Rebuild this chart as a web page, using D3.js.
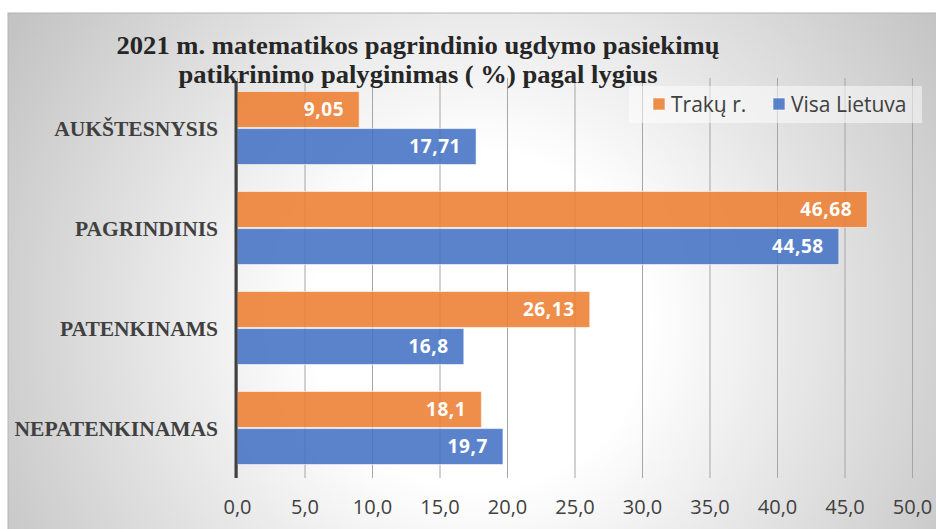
<!DOCTYPE html>
<html>
<head>
<meta charset="utf-8">
<script src="https://cdn.jsdelivr.net/npm/d3@7"></script>
<style>
  body { margin: 0; background: #fff; }
  svg { display: block; }
</style>
</head>
<body>
<svg width="936" height="529"></svg>
<script>
const categories = ["AUKŠTESNYSIS", "PAGRINDINIS", "PATENKINAMS", "NEPATENKINAMAS"];
const seriesNames = ["Trakų r.", "Visa Lietuva"];
const trakai = [9.05, 46.68, 26.13, 18.1];
const lietuva = [17.71, 44.58, 16.8, 19.7];
const tickValues = [0, 5, 10, 15, 20, 25, 30, 35, 40, 45, 50];
const titleLines = [
  "2021 m. matematikos pagrindinio ugdymo pasiekimų",
  "patikrinimo palyginimas ( %) pagal lygius"
];
const colors = ["#ED7D31", "#4472C4"];

const svg = d3.select("svg");
const defs = svg.append("defs");
const grad = defs.append("radialGradient")
  .attr("id", "bg")
  .attr("gradientUnits", "userSpaceOnUse")
  .attr("cx", 480).attr("cy", 320).attr("r", 560);
grad.append("stop").attr("offset", "0").attr("stop-color", "#ffffff");
grad.append("stop").attr("offset", "0.3").attr("stop-color", "#ffffff");
grad.append("stop").attr("offset", "1").attr("stop-color", "#c2c2c2");

svg.append("rect")
  .attr("x", 8).attr("y", 13).attr("width", 940).attr("height", 530)
  .attr("fill", "url(#bg)")
  .attr("stroke", "#b4b4b4").attr("stroke-width", 1);

const margin = { left: 237, right: 912, top: 78, bottom: 478 };
const x = d3.scaleLinear().domain([0, 50]).range([margin.left, margin.right]);
const y = d3.scaleBand().domain(categories).range([margin.top, margin.bottom])
  .paddingInner(0.27).paddingOuter(0.135);
const ys = d3.scaleBand().domain(seriesNames).range([0, y.bandwidth()]).paddingInner(0.03);

// gridlines + tick labels
const fmt = d => d3.format(".1f")(d).replace(".", ",");
const xAxis = svg.append("g")
  .attr("transform", `translate(0,${margin.bottom})`)
  .call(d3.axisBottom(x).tickValues(tickValues).tickFormat(fmt)
    .tickSize(-(margin.bottom - margin.top)).tickPadding(22));
xAxis.select(".domain").remove();
xAxis.selectAll(".tick line").attr("stroke", "#a6a6a6").attr("stroke-width", 1);
xAxis.selectAll(".tick text")
  .attr("fill", "#404040")
  .style("font-family", "'Open Sans', sans-serif")
  .style("font-size", "20px");

// bars
const rows = categories.map((c, i) => ({ cat: c, vals: [trakai[i], lietuva[i]] }));
const groups = svg.selectAll(".cat").data(rows).enter().append("g")
  .attr("class", "cat")
  .attr("transform", d => `translate(0,${y(d.cat)})`);

groups.selectAll("rect").data(d => d.vals.map((v, j) => ({ v, s: seriesNames[j], j })))
  .enter().append("rect")
  .attr("x", x(0))
  .attr("y", d => ys(d.s))
  .attr("width", d => x(d.v) - x(0))
  .attr("height", ys.bandwidth())
  .attr("fill", d => colors[d.j])
  .attr("fill-opacity", 0.88)
  .attr("stroke", "rgba(255,255,255,0.55)")
  .attr("stroke-width", 1);

groups.selectAll("text.val").data(d => d.vals.map((v, j) => ({ v, s: seriesNames[j] })))
  .enter().append("text")
  .attr("class", "val")
  .attr("x", d => x(d.v) - 15)
  .attr("y", d => ys(d.s) + ys.bandwidth() / 2)
  .attr("dy", "0.36em")
  .attr("text-anchor", "end")
  .attr("fill", "#fff")
  .style("font-family", "'Open Sans', sans-serif")
  .style("font-weight", "bold")
  .style("font-size", "19px")
  .style("letter-spacing", "0.6px")
  .text(d => String(d.v).replace(".", ","));

// vertical axis line
svg.append("line")
  .attr("x1", x(0) - 1).attr("x2", x(0) - 1)
  .attr("y1", margin.top + 3).attr("y2", margin.bottom)
  .attr("stroke", "#404040").attr("stroke-width", 3);

// category labels
svg.selectAll(".catlabel").data(categories).enter().append("text")
  .attr("x", 218)
  .attr("y", d => y(d) + y.bandwidth() / 2)
  .attr("dy", "0.35em")
  .attr("text-anchor", "end")
  .attr("fill", "#404040")
  .style("font-family", "'Liberation Serif', serif")
  .style("font-weight", "bold")
  .style("font-size", "21.5px")
  .text(d => d);

// title
const titleWidths = [603, 479];
svg.selectAll(".title").data(titleLines).enter().append("text")
  .attr("x", 418)
  .attr("y", (d, i) => 54 + i * 29)
  .attr("text-anchor", "middle")
  .attr("fill", "#262626")
  .attr("textLength", (d, i) => titleWidths[i])
  .attr("lengthAdjust", "spacingAndGlyphs")
  .style("font-family", "'Liberation Serif', serif")
  .style("font-weight", "bold")
  .style("font-size", "25px")
  .text(d => d);

// legend
const lg = svg.append("g");
lg.append("rect")
  .attr("x", 629).attr("y", 86).attr("width", 293).attr("height", 37)
  .attr("fill", "#fff").attr("fill-opacity", 0.5);
const legX = [653, 773];
seriesNames.forEach((s, i) => {
  lg.append("rect")
    .attr("x", legX[i]).attr("y", 98).attr("width", 12).attr("height", 12)
    .attr("fill", colors[i]).attr("fill-opacity", 0.88)
    .attr("stroke", "rgba(255,255,255,0.6)");
  lg.append("text")
    .attr("x", legX[i] + 18).attr("y", 104)
    .attr("dy", "0.36em")
    .attr("fill", "#404040")
    .style("font-family", "'Open Sans', sans-serif")
    .style("font-size", "21px")
    .text(s);
});
</script>
</body>
</html>
